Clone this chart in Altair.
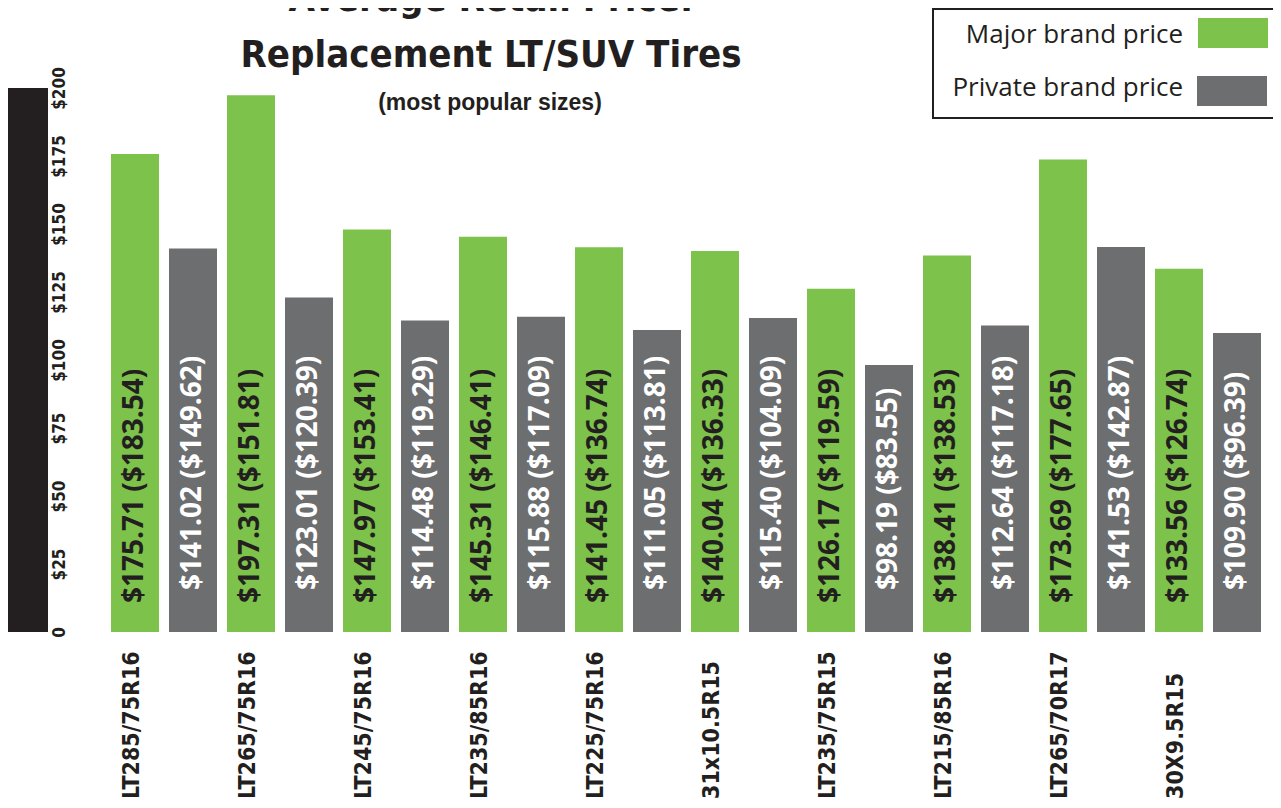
import altair as alt
import pandas as pd

# ---------------- data ----------------
sizes = ["LT285/75R16", "LT265/75R16", "LT245/75R16", "LT235/85R16", "LT225/75R16",
         "31x10.5R15", "LT235/75R15", "LT215/85R16", "LT265/70R17", "30X9.5R15"]
major = [175.71, 197.31, 147.97, 145.31, 141.45, 140.04, 126.17, 138.41, 173.69, 133.56]
major_prev = [183.54, 151.81, 153.41, 146.41, 136.74, 136.33, 119.59, 138.53, 177.65, 126.74]
private = [141.02, 123.01, 114.48, 115.88, 111.05, 115.40, 98.19, 112.64, 141.53, 109.90]
private_prev = [149.62, 120.39, 119.29, 117.09, 113.81, 104.09, 83.55, 117.18, 142.87, 96.39]
brands = ["Major brand price", "Private brand price"]
colors = ["#7dc24a", "#6d6e70"]
y_ticks = [0, 25, 50, 75, 100, 125, 150, 175, 200]
title_lines = ["Average Retail Price:", "Replacement LT/SUV Tires"]
subtitle = "(most popular sizes)"

rows = []
keys = []
for i, s in enumerate(sizes):
    for b, v, p in ((brands[0], major[i], major_prev[i]), (brands[1], private[i], private_prev[i])):
        k = f"{s}|{b}"
        keys.append(k)
        rows.append({"size": s, "brand": b, "key": k, "price": v,
                     "label": f"${v:.2f} (${p:.2f})"})
df = pd.DataFrame(rows)

NARROW = "'DejaVu Sans Condensed', 'DejaVu Sans', sans-serif"
HUMAN = "'Open Sans', 'Noto Sans', sans-serif"
INK = "#231f20"

W, H = 1160, 544
xscale = alt.Scale(domain=keys, paddingInner=10 / 58, paddingOuter=0.0862)
yscale = alt.Scale(domain=[0, 200])
yaxis = alt.Axis(values=y_ticks, labelExpr="datum.value == 0 ? '0' : '$' + datum.value",
                 labelAngle=270, labelAlign="center", labelBaseline="alphabetic",
                 labelFont=NARROW, labelFontSize=17, labelFontWeight="bold", labelColor=INK,
                 labelPadding=1, offset=41, domain=False, ticks=False, tickSize=0,
                 grid=False, title=None)
cscale = alt.Scale(domain=brands, range=colors)


def X():
    return alt.X("key:N", scale=xscale, sort=keys, axis=None)


def Y(field):
    return alt.Y(field, scale=yscale, axis=yaxis)


base = alt.Chart(df)

bars = base.mark_bar().encode(
    x=X(), y=Y("price:Q"),
    color=alt.Color("brand:N", scale=cscale, legend=None),
)

lab_major = base.transform_filter(alt.datum.brand == brands[0]).mark_text(
    angle=270, align="left", baseline="middle", font=HUMAN, fontSize=28,
    fontWeight="bold", color=INK,
).encode(x=X(), y=alt.value(515), text="label:N")

lab_private = base.transform_filter(alt.datum.brand == brands[1]).mark_text(
    angle=270, align="left", baseline="middle", font=HUMAN, fontSize=28,
    fontWeight="bold", color="white",
).encode(x=X(), y=alt.value(502), text="label:N")

xlabels = base.transform_filter(alt.datum.brand == brands[0]).mark_text(
    angle=270, align="left", baseline="middle", font=NARROW, fontSize=23,
    fontWeight="bold", color=INK, dy=-3,
).encode(x=X(), y=alt.value(711), text="size:N")

# black vertical band behind the y axis labels
band_df = pd.DataFrame({"y0": [y_ticks[0]], "y1": [y_ticks[-1]]})
band = alt.Chart(band_df).mark_rect(color=INK).encode(
    x=alt.value(-98), x2=alt.value(-58), y=Y("y0:Q"), y2="y1:Q")

# titles
tdf = pd.DataFrame({"l1": [title_lines[0]], "l2": [title_lines[1]], "sub": [subtitle]})
tbase = alt.Chart(tdf)
t1 = tbase.mark_text(font=NARROW, fontSize=38, fontWeight="bold", color=INK,
                     align="center", baseline="alphabetic").encode(
    x=alt.value(385), y=alt.value(-77), text="l1:N")
t2 = tbase.mark_text(font=NARROW, fontSize=38, fontWeight="bold", color=INK,
                     align="center", baseline="alphabetic").encode(
    x=alt.value(385), y=alt.value(-21), text="l2:N")
t3 = tbase.mark_text(font="'Liberation Sans', Arial, sans-serif", fontSize=23,
                     fontWeight="bold", color=INK,
                     align="center", baseline="alphabetic").encode(
    x=alt.value(384), y=alt.value(22), text="sub:N")

# custom legend
ldf = pd.DataFrame({"brand": brands})
lbase = alt.Chart(ldf)
box = lbase.transform_filter(alt.datum.brand == brands[0]).mark_rect(
    fill="white", stroke=INK, strokeWidth=2).encode(
    x=alt.value(827), x2=alt.value(1172), y=alt.value(-79), y2=alt.value(30))
sw1 = lbase.transform_filter(alt.datum.brand == brands[0]).mark_rect().encode(
    x=alt.value(1092), x2=alt.value(1162), y=alt.value(-70), y2=alt.value(-40),
    color=alt.Color("brand:N", scale=cscale, legend=None))
sw2 = lbase.transform_filter(alt.datum.brand == brands[1]).mark_rect().encode(
    x=alt.value(1091), x2=alt.value(1161), y=alt.value(-12), y2=alt.value(18),
    color=alt.Color("brand:N", scale=cscale, legend=None))
lt1 = lbase.transform_filter(alt.datum.brand == brands[0]).mark_text(
    font=HUMAN, fontSize=26, color=INK, align="right", baseline="middle").encode(
    x=alt.value(1077), y=alt.value(-53), text="brand:N")
lt2 = lbase.transform_filter(alt.datum.brand == brands[1]).mark_text(
    font=HUMAN, fontSize=26, color=INK, align="right", baseline="middle").encode(
    x=alt.value(1077), y=alt.value(0), text="brand:N")

chart = alt.layer(
    band, bars, lab_major, lab_private, xlabels, t1, t2, t3, box, sw1, sw2, lt1, lt2
).properties(
    width=W, height=H,
    padding={"left": 98, "top": 80, "right": 7, "bottom": 168},
    autosize=alt.AutoSizeParams(type="none"),
    background="white",
).configure_view(stroke=None)

chart.save("out.html", embed_options={"renderer": "svg", "actions": False})
